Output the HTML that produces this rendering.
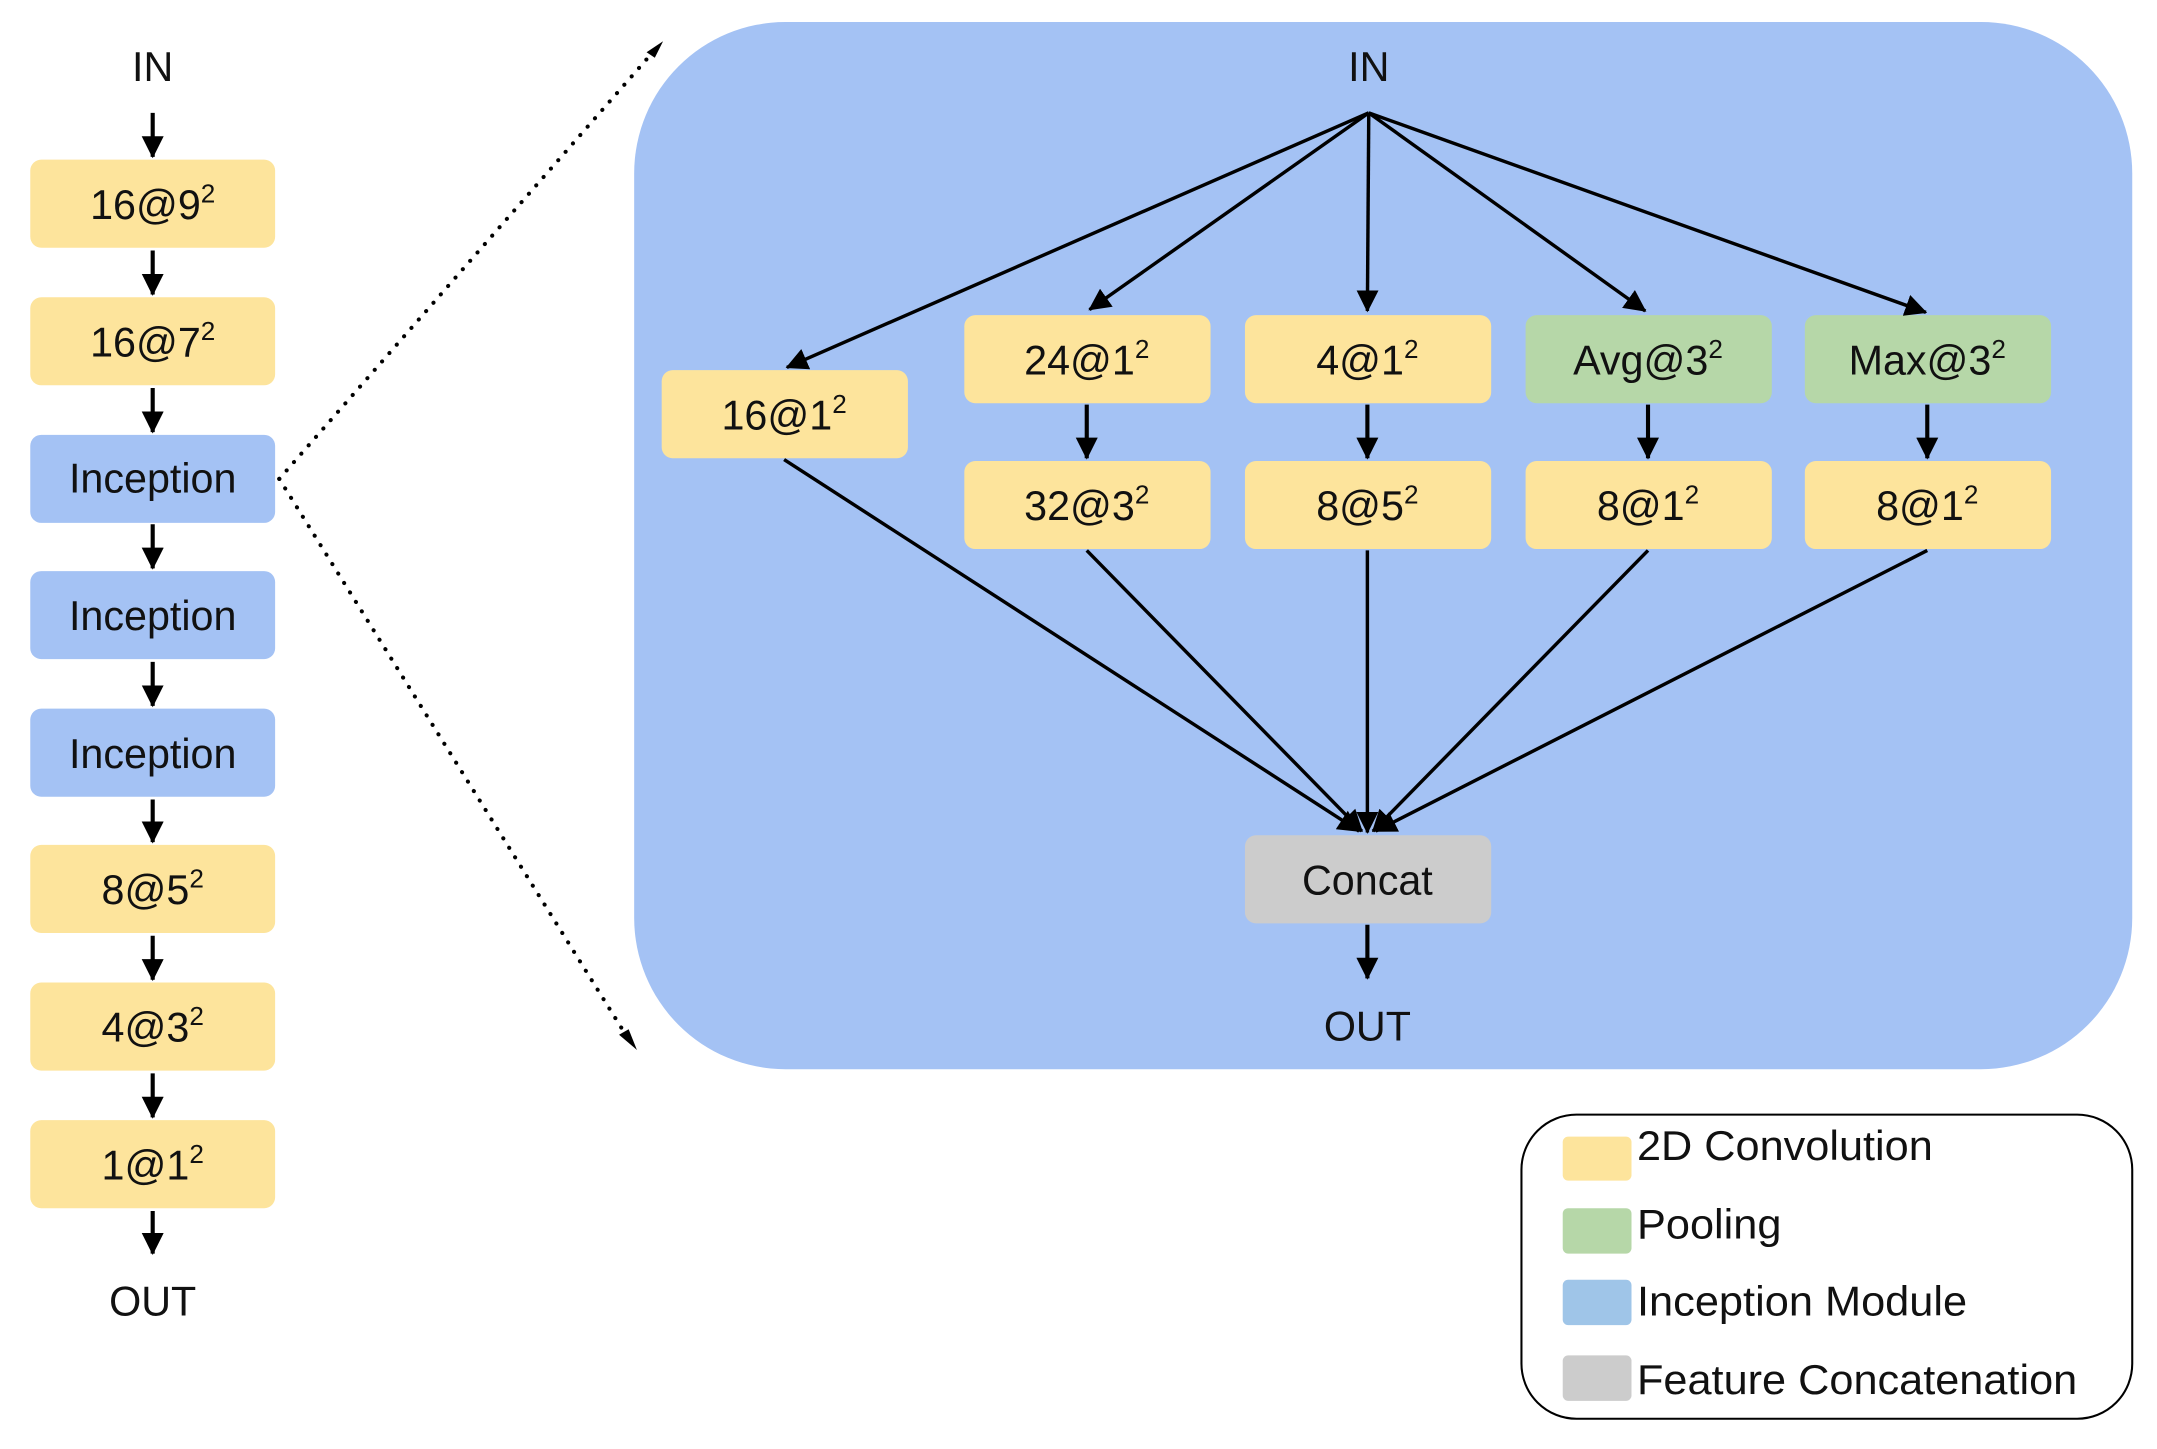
<!DOCTYPE html>
<html><head><meta charset="utf-8"><style>
html,body{margin:0;padding:0;background:#fff;}
svg{display:block;}
text{font-family:"Liberation Sans",Arial,sans-serif;fill:#111;}
</style></head><body>
<svg width="2157" height="1449" viewBox="0 0 1568 1053" preserveAspectRatio="none" xmlns="http://www.w3.org/2000/svg">
<defs>
<marker id="b" markerWidth="16" markerHeight="16" refX="15" refY="8" orient="auto" markerUnits="userSpaceOnUse" viewBox="0 0 16 16"><path d="M0,0 L16,8 L0,16 z" fill="#000"/></marker>
</defs>
<rect x="461" y="16" width="1089" height="761" rx="110" fill="#a4c2f4"/>
<rect x="1106" y="810" width="444" height="221" rx="40" fill="#fff" stroke="#000" stroke-width="1.5"/>
<g font-size="30" text-anchor="middle">
<text x="111" y="59">IN</text>
<text x="111" y="956">OUT</text>
<text x="995" y="59">IN</text>
<text x="994" y="756">OUT</text>
</g>
<g fill="#fde49c">
<rect x="22" y="116" width="178" height="64" rx="8"/>
<rect x="22" y="216" width="178" height="64" rx="8"/>
<rect x="22" y="614" width="178" height="64" rx="8"/>
<rect x="22" y="714" width="178" height="64" rx="8"/>
<rect x="22" y="814" width="178" height="64" rx="8"/>
<rect x="481" y="269" width="179" height="64" rx="8"/>
<rect x="701" y="229" width="179" height="64" rx="8"/>
<rect x="905" y="229" width="179" height="64" rx="8"/>
<rect x="701" y="335" width="179" height="64" rx="8"/>
<rect x="905" y="335" width="179" height="64" rx="8"/>
<rect x="1109" y="335" width="179" height="64" rx="8"/>
<rect x="1312" y="335" width="179" height="64" rx="8"/>
<rect x="1136" y="826" width="50" height="32" rx="4"/>
</g>
<g fill="#a4c2f4">
<rect x="22" y="316" width="178" height="64" rx="8"/>
<rect x="22" y="415" width="178" height="64" rx="8"/>
<rect x="22" y="515" width="178" height="64" rx="8"/>
<rect x="1136" y="930" width="50" height="33" rx="4" fill="#9fc5e8"/>
</g>
<g fill="#b6d7a8">
<rect x="1109" y="229" width="179" height="64" rx="8"/>
<rect x="1312" y="229" width="179" height="64" rx="8"/>
<rect x="1136" y="878" width="50" height="33" rx="4"/>
</g>
<rect x="905" y="607" width="179" height="64" rx="8" fill="#cccccc"/>
<rect x="1136" y="985" width="50" height="33" rx="4" fill="#cccccc"/>
<g stroke="#000" stroke-width="3" marker-end="url(#b)">
<line x1="111" y1="82" x2="111" y2="114"/>
<line x1="111" y1="182" x2="111" y2="214"/>
<line x1="111" y1="282" x2="111" y2="314"/>
<line x1="111" y1="381" x2="111" y2="413"/>
<line x1="111" y1="481" x2="111" y2="513"/>
<line x1="111" y1="581" x2="111" y2="612"/>
<line x1="111" y1="680" x2="111" y2="712"/>
<line x1="111" y1="780" x2="111" y2="812"/>
<line x1="111" y1="880" x2="111" y2="911"/>
<line x1="790" y1="294" x2="790" y2="333"/>
<line x1="994" y1="294" x2="994" y2="333"/>
<line x1="1198" y1="294" x2="1198" y2="333"/>
<line x1="1401" y1="294" x2="1401" y2="333"/>
<line x1="994" y1="672" x2="994" y2="711"/>
</g>
<g stroke="#000" stroke-width="2.5" marker-end="url(#b)">
<line x1="995" y1="82" x2="572" y2="267"/>
<line x1="995" y1="82" x2="792" y2="225"/>
<line x1="995" y1="82" x2="994" y2="226"/>
<line x1="995" y1="82" x2="1196" y2="226"/>
<line x1="995" y1="82" x2="1400" y2="227"/>
<line x1="570" y1="334" x2="988" y2="604"/>
<line x1="790" y1="400" x2="990" y2="604"/>
<line x1="994" y1="400" x2="994" y2="605"/>
<line x1="1198" y1="400" x2="998" y2="604"/>
<line x1="1401" y1="400" x2="1000" y2="604"/>
</g>
<g stroke="#000" stroke-width="3" stroke-dasharray="0.1 8" stroke-linecap="round" fill="none">
<line x1="203" y1="348" x2="478" y2="34"/>
<line x1="203" y1="348" x2="458" y2="757"/>
</g>
<path d="M482,30 L470,38 L476,42 z" fill="#000"/>
<path d="M463,763 L450,752 L457,748 z" fill="#000"/>
<g font-size="30" text-anchor="middle">
<text x="111" y="159">16@9<tspan font-size="19" dy="-12">2</tspan></text>
<text x="111" y="259">16@7<tspan font-size="19" dy="-12">2</tspan></text>
<text x="111" y="358">Inception</text>
<text x="111" y="458">Inception</text>
<text x="111" y="558">Inception</text>
<text x="111" y="657">8@5<tspan font-size="19" dy="-12">2</tspan></text>
<text x="111" y="757">4@3<tspan font-size="19" dy="-12">2</tspan></text>
<text x="111" y="857">1@1<tspan font-size="19" dy="-12">2</tspan></text>
<text x="570" y="312">16@1<tspan font-size="19" dy="-12">2</tspan></text>
<text x="790" y="272">24@1<tspan font-size="19" dy="-12">2</tspan></text>
<text x="994" y="272">4@1<tspan font-size="19" dy="-12">2</tspan></text>
<text x="1198" y="272">Avg@3<tspan font-size="19" dy="-12">2</tspan></text>
<text x="1401" y="272">Max@3<tspan font-size="19" dy="-12">2</tspan></text>
<text x="790" y="378">32@3<tspan font-size="19" dy="-12">2</tspan></text>
<text x="994" y="378">8@5<tspan font-size="19" dy="-12">2</tspan></text>
<text x="1198" y="378">8@1<tspan font-size="19" dy="-12">2</tspan></text>
<text x="1401" y="378">8@1<tspan font-size="19" dy="-12">2</tspan></text>
<text x="994" y="650">Concat</text>
</g>
<g font-size="30">
<text x="1190" y="843" textLength="215" lengthAdjust="spacingAndGlyphs">2D Convolution</text>
<text x="1190" y="900" textLength="105" lengthAdjust="spacingAndGlyphs">Pooling</text>
<text x="1190" y="956" textLength="240" lengthAdjust="spacingAndGlyphs">Inception Module</text>
<text x="1190" y="1013" textLength="320" lengthAdjust="spacingAndGlyphs">Feature Concatenation</text>
</g>
</svg>
</body></html>
